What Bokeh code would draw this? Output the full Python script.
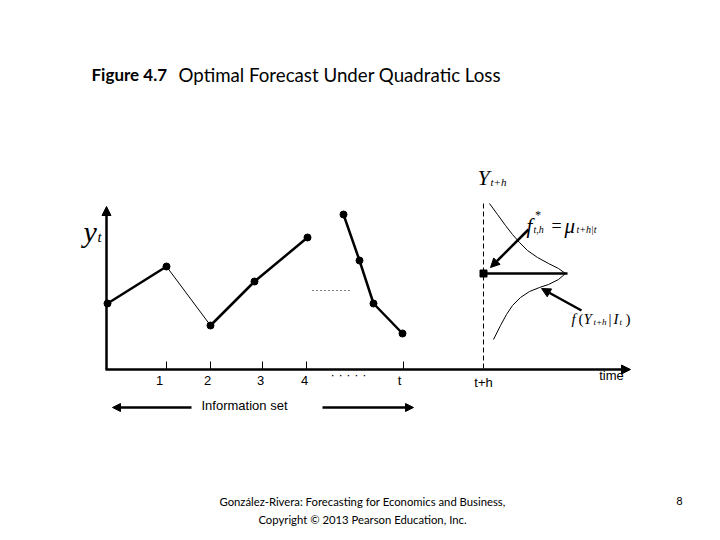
from bokeh.plotting import figure
from bokeh.models import Range1d, Arrow, NormalHead, Label
from bokeh.embed import file_html
from bokeh.resources import INLINE

# ---- data (schematic positions in diagram units) ----
obs_a_x = [107, 166, 210, 254, 307]
obs_a_y = [303, 266, 325, 281, 237]
obs_a_width = [2.5, 1, 2.5, 2.5]
obs_b_x = [343, 359, 373, 402]
obs_b_y = [214, 260, 303, 333]
tick_x = [166, 210, 262, 306, 403]
tick_label_x = [159, 207, 260, 304, 399]
tick_labels = ["1", "2", "3", "4", "t"]
forecast_x = 483
forecast_y = 273
density_x = [489, 497, 505, 512, 519, 527, 537, 548, 558, 565, 558, 548, 539, 529, 520, 512, 506, 500, 493]
density_y = [203, 214, 225, 234, 242, 250, 257, 263, 268, 273, 279, 284, 287, 291, 297, 305, 314, 325, 339]

W, H = 712, 532
p = figure(width=W, height=H, output_backend="svg", toolbar_location=None,
           x_range=Range1d(0, W), y_range=Range1d(H, 0),
           min_border=0, outline_line_color=None)
p.axis.visible = False
p.grid.visible = False
p.background_fill_color = "white"
p.border_fill_color = "white"

black = "#000000"
DY = -7  # label baseline correction

# axes
p.add_layout(Arrow(end=NormalHead(size=9, fill_color=black, line_color=black),
                   x_start=106, y_start=369, x_end=106, y_end=206, line_width=2.5, line_color=black))
p.add_layout(Arrow(end=NormalHead(size=9, fill_color=black, line_color=black),
                   x_start=105, y_start=369, x_end=630, y_end=369, line_width=2.5, line_color=black))
# ticks
for tx in tick_x:
    p.line([tx, tx], [361, 369], line_color=black, line_width=1)

def sans(x, y, t, size="13px", align="center"):
    p.add_layout(Label(x=x, y=y + DY, text=t, text_font="Liberation Sans", text_font_size=size,
                       text_align=align, text_baseline="alphabetic", text_color=black))

for tx, tl in zip(tick_label_x, tick_labels):
    sans(tx, 387, tl)
sans(483, 389, "t+h")
sans(611, 382, "time")
sans(348, 381, "· · · · ·")
sans(244, 412, "Information set")

# observed series
for i in range(len(obs_a_x) - 1):
    p.line(obs_a_x[i:i + 2], obs_a_y[i:i + 2], line_color=black, line_width=obs_a_width[i])
p.scatter(obs_a_x, obs_a_y, size=7, color=black)
p.line(obs_b_x, obs_b_y, line_color=black, line_width=2.5)
p.scatter(obs_b_x, obs_b_y, size=7, color=black)
p.line([312, 352], [290, 290], line_color=black, line_width=1, line_dash="1 3")

# forecast
p.line([forecast_x, forecast_x], [203, 369], line_color=black, line_width=1, line_dash="5 3")
p.line([forecast_x, 567], [forecast_y, forecast_y], line_color=black, line_width=2.5)
p.scatter([forecast_x], [forecast_y], marker="square", size=7, color=black)
p.line(density_x, density_y, line_color=black, line_width=1)

p.add_layout(Arrow(end=NormalHead(size=9, fill_color=black, line_color=black),
                   x_start=528, y_start=229, x_end=490, y_end=267, line_width=2.5, line_color=black))
p.add_layout(Arrow(end=NormalHead(size=9, fill_color=black, line_color=black),
                   x_start=581, y_start=310, x_end=541, y_end=288, line_width=2.5, line_color=black))

# information set
p.add_layout(Arrow(end=NormalHead(size=8, fill_color=black, line_color=black),
                   x_start=191, y_start=407, x_end=112, y_end=407, line_width=2.5, line_color=black))
p.add_layout(Arrow(end=NormalHead(size=8, fill_color=black, line_color=black),
                   x_start=322, y_start=407, x_end=413, y_end=407, line_width=2.5, line_color=black))

# math-style labels
serif = "Liberation Serif"
def lab(x, y, t, size, style="italic", font=serif, align="left"):
    p.add_layout(Label(x=x, y=y + DY, text=t, text_font=font, text_font_size=size, text_font_style=style,
                       text_align=align, text_baseline="alphabetic", text_color=black))

lab(83, 238, "y", "30px")
lab(97, 243, "t", "15px")
lab(477, 184, "Y", "22px")
lab(490, 188, "t+h", "11px")
lab(526, 232, "f", "21px")
lab(534, 221, "*", "12px")
lab(533, 236, "t,h", "10px")
lab(551, 232, "=", "18px", style="normal")
lab(564, 232, "μ", "21px")
lab(576, 236, "t+h|t", "10px")
lab(571, 325, "f", "15px")
lab(578, 325, "(", "15px", style="normal")
lab(583, 325, "Y", "15px")
lab(593, 328, "t+h", "9px")
lab(608, 325, "|", "15px", style="normal")
lab(613, 325, "I", "15px")
lab(619, 328, "t", "9px")
lab(625, 325, ")", "15px", style="normal")

# title and footer
def lato(x, y, t, size, style="normal", align="left"):
    p.add_layout(Label(x=x, y=y + DY, text=t, text_font="Lato", text_font_size=size, text_font_style=style,
                       text_align=align, text_baseline="alphabetic", text_color=black))

lato(91, 81, "Figure 4.7", "17px", style="bold")
lato(178, 81, "Optimal Forecast Under Quadratic Loss", "18.7px")
lato(362, 508, "González-Rivera: Forecasting for Economics and Business,", "11.3px", align="center")
lato(362, 526, "Copyright © 2013 Pearson Education, Inc.", "11.3px", align="center")
lato(679, 507, "8", "11px", align="center")

open("out.html", "w").write(file_html(p, INLINE))
